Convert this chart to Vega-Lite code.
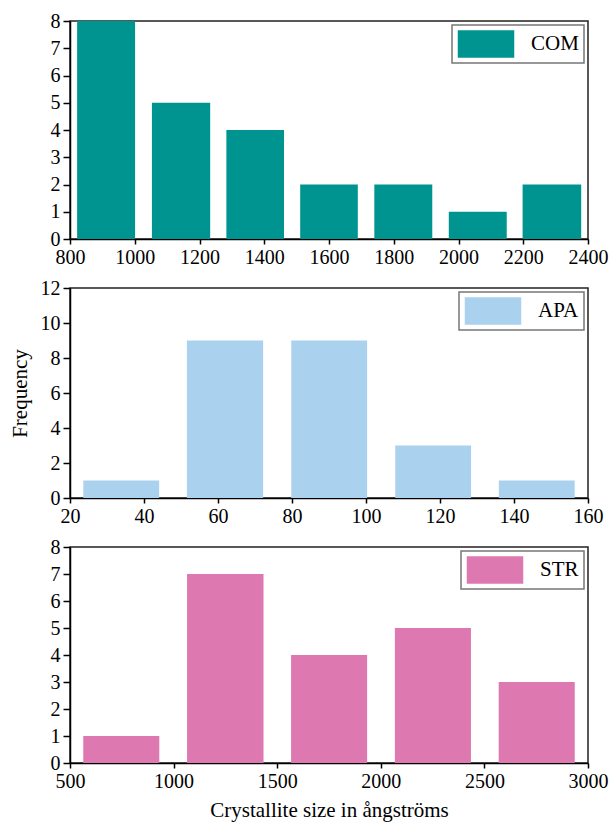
{
  "$schema": "https://vega.github.io/schema/vega-lite/v6.json",
  "padding": {"left": 8, "top": 10, "right": 5, "bottom": 1},
  "background": "white",
  "bounds": "flush",
  "spacing": 49,
  "config": {
    "font": "Liberation Serif",
    "view": {"stroke": "#222", "strokeWidth": 1.5},
    "axis": {
      "labelFont": "Liberation Serif", "labelFontSize": 20, "labelColor": "black",
      "titleFont": "Liberation Serif", "titleFontSize": 21, "titleFontWeight": "normal", "titleColor": "black",
      "domainColor": "black", "domainWidth": 1.5, "tickColor": "black", "tickWidth": 1.5,
      "grid": false, "labelFlush": false, "labelOverlap": false, "labelPadding": 3, "format": "d"
    },
    "axisX": {"tickSize": 5},
    "axisY": {"tickSize": 7, "titlePadding": 10},
    "legend": {
      "orient": "top-right", "offset": 4, "padding": 5,
      "fillColor": "white", "strokeColor": "#777", "strokeWidth": 1.5,
      "symbolType": "M-2.07,-1H2.07V1H-2.07Z", "symbolSize": 745, "symbolOffset": 15, "symbolStrokeWidth": 0, "symbolOpacity": 1,
      "labelFont": "Liberation Serif", "labelFontSize": 21, "labelColor": "black", "labelOffset": 31
    }
  },
  "datasets": {
    "com": [
      {"sample": "COM", "x0": 822, "x1": 1001, "count": 8},
      {"sample": "COM", "x0": 1053, "x1": 1233, "count": 5},
      {"sample": "COM", "x0": 1283, "x1": 1461, "count": 4},
      {"sample": "COM", "x0": 1511, "x1": 1689, "count": 2},
      {"sample": "COM", "x0": 1740, "x1": 1919, "count": 2},
      {"sample": "COM", "x0": 1970, "x1": 2149, "count": 1},
      {"sample": "COM", "x0": 2198, "x1": 2379, "count": 2}
    ],
    "apa": [
      {"sample": "APA", "x0": 23.6, "x1": 44.1, "count": 1},
      {"sample": "APA", "x0": 51.6, "x1": 72.2, "count": 9},
      {"sample": "APA", "x0": 79.8, "x1": 100.3, "count": 9},
      {"sample": "APA", "x0": 107.9, "x1": 128.4, "count": 3},
      {"sample": "APA", "x0": 135.9, "x1": 156.4, "count": 1}
    ],
    "str": [
      {"sample": "STR", "x0": 564, "x1": 931, "count": 1},
      {"sample": "STR", "x0": 1065, "x1": 1434, "count": 7},
      {"sample": "STR", "x0": 1567, "x1": 1934, "count": 4},
      {"sample": "STR", "x0": 2068, "x1": 2435, "count": 5},
      {"sample": "STR", "x0": 2569, "x1": 2936, "count": 3}
    ]
  },
  "vconcat": [
    {
      "width": 518, "height": 218,
      "data": {"name": "com"},
      "mark": {"type": "bar"},
      "encoding": {
        "x": {"field": "x0", "type": "quantitative", "scale": {"domain": [800, 2400], "nice": false, "zero": false},
              "axis": {"values": [800, 1000, 1200, 1400, 1600, 1800, 2000, 2200, 2400], "title": null, "format": "d"}},
        "x2": {"field": "x1"},
        "y": {"field": "count", "type": "quantitative", "scale": {"domain": [0, 8], "nice": false},
              "axis": {"values": [0, 1, 2, 3, 4, 5, 6, 7, 8], "title": null, "format": "d"}},
        "y2": {"datum": 0},
        "color": {"field": "sample", "type": "nominal", "scale": {"domain": ["COM"], "range": ["#009490"]}, "legend": {"title": null}}
      }
    },
    {
      "width": 518, "height": 210,
      "data": {"name": "apa"},
      "mark": {"type": "bar"},
      "encoding": {
        "x": {"field": "x0", "type": "quantitative", "scale": {"domain": [20, 160], "nice": false, "zero": false},
              "axis": {"values": [20, 40, 60, 80, 100, 120, 140, 160], "title": null, "format": "d"}},
        "x2": {"field": "x1"},
        "y": {"field": "count", "type": "quantitative", "scale": {"domain": [0, 12], "nice": false},
              "axis": {"values": [0, 2, 4, 6, 8, 10, 12], "title": "Frequency", "format": "d"}},
        "y2": {"datum": 0},
        "color": {"field": "sample", "type": "nominal", "scale": {"domain": ["APA"], "range": ["#aad1ed"]}, "legend": {"title": null}}
      }
    },
    {
      "width": 518, "height": 216,
      "data": {"name": "str"},
      "mark": {"type": "bar"},
      "encoding": {
        "x": {"field": "x0", "type": "quantitative", "scale": {"domain": [500, 3000], "nice": false, "zero": false},
              "axis": {"values": [500, 1000, 1500, 2000, 2500, 3000], "title": "Crystallite size in ångströms", "titlePadding": 8, "format": "d"}},
        "x2": {"field": "x1"},
        "y": {"field": "count", "type": "quantitative", "scale": {"domain": [0, 8], "nice": false},
              "axis": {"values": [0, 1, 2, 3, 4, 5, 6, 7, 8], "title": null, "format": "d"}},
        "y2": {"datum": 0},
        "color": {"field": "sample", "type": "nominal", "scale": {"domain": ["STR"], "range": ["#de78b0"]}, "legend": {"title": null}}
      }
    }
  ],
  "resolve": {"scale": {"color": "independent", "x": "independent", "y": "independent"}, "legend": {"color": "independent"}}
}
